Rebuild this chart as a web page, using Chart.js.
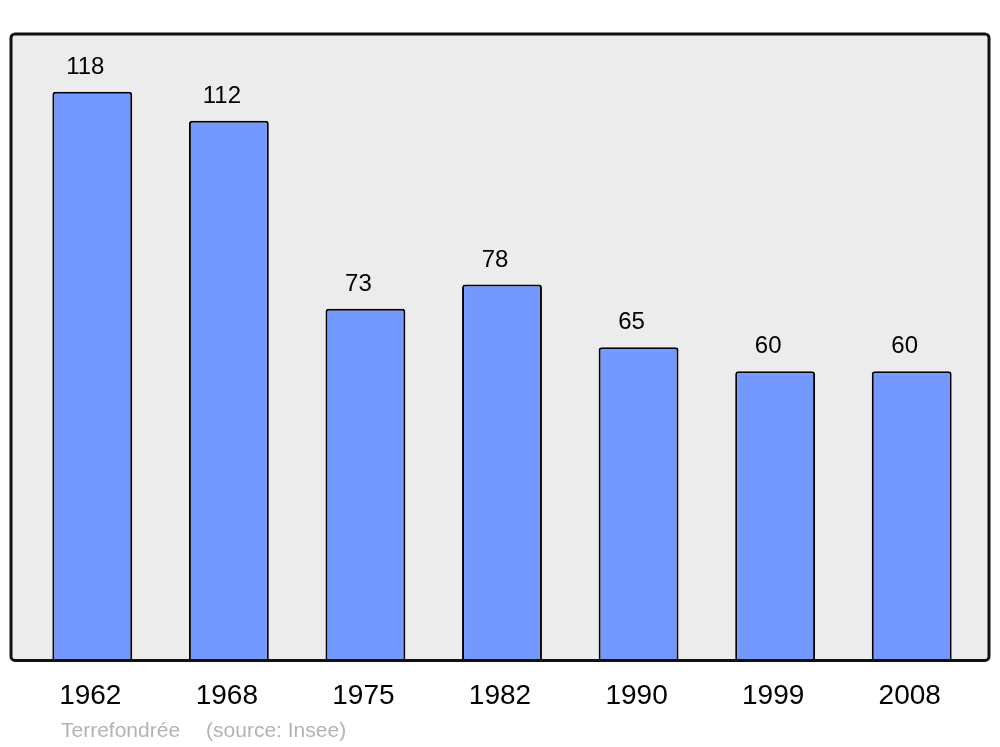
<!DOCTYPE html>
<html>
<head>
<meta charset="utf-8">
<script src="https://cdn.jsdelivr.net/npm/chart.js@4/dist/chart.umd.min.js"></script>
<style>
    html, body { margin: 0; padding: 0; background: #fff; }
    #wrap { position: relative; width: 1000px; height: 747px; }
    #source {
        position: absolute; left: 61px; top: 718px;
        font-family: "Liberation Sans", Arial, sans-serif;
        font-size: 21px; color: #b3b3b3; white-space: pre;
    }
    #source span { margin-left: 26px; }
</style>
</head>
<body>
<div id="wrap">
    <canvas id="popChart" width="1000" height="747"></canvas>
    <div id="source">Terrefondrée<span>(source: Insee)</span></div>
</div>
<script>
// Population by census year
const years = ['1962', '1968', '1975', '1982', '1990', '1999', '2008'];
const population = [118, 112, 73, 78, 65, 60, 60];

// Grey plot box behind the bars, outline drawn on top
const plotBox = {
    id: 'plotBox',
    box(chart) {
        const a = chart.chartArea;
        return { x: a.left - 13, y: a.top, w: (a.right + 9) - (a.left - 13), h: a.bottom - a.top };
    },
    beforeDatasetsDraw(chart) {
        const ctx = chart.ctx;
        const b = this.box(chart);
        ctx.save();
        ctx.beginPath();
        ctx.roundRect(b.x, b.y, b.w, b.h, 4);
        ctx.fillStyle = '#ececec';
        ctx.fill();
        ctx.restore();
    },
    afterDatasetsDraw(chart) {
        const ctx = chart.ctx;
        const b = this.box(chart);
        ctx.save();
        ctx.beginPath();
        ctx.roundRect(b.x, b.y, b.w, b.h, 4);
        ctx.lineWidth = 3;
        ctx.strokeStyle = '#111';
        ctx.stroke();
        // value labels above bars
        ctx.fillStyle = '#000';
        ctx.font = '24px "Liberation Sans", Arial, sans-serif';
        ctx.textAlign = 'center';
        ctx.textBaseline = 'alphabetic';
        chart.getDatasetMeta(0).data.forEach((bar, i) => {
            ctx.fillText(population[i], bar.x - 7, bar.y - 18);
        });
        ctx.restore();
    }
};

const ctx = document.getElementById('popChart').getContext('2d');
new Chart(ctx, {
    type: 'bar',
    data: {
        labels: years,
        datasets: [{
            data: population,
            backgroundColor: '#7399ff',
            borderColor: '#000',
            borderWidth: 2,
            borderRadius: 3,
            borderSkipped: 'bottom',
            categoryPercentage: 1,
            barPercentage: 0.585
        }]
    },
    options: {
        responsive: false,
        animation: false,
        layout: {
            padding: { left: 24, right: 20, top: 34, bottom: 15 }
        },
        plugins: {
            legend: { display: false },
            tooltip: { enabled: false }
        },
        scales: {
            x: {
                grid: { display: false, drawTicks: false },
                border: { display: false },
                ticks: {
                    color: '#000',
                    padding: 19,
                    labelOffset: -2,
                    font: { family: '"Liberation Sans", Arial, sans-serif', size: 28 }
                }
            },
            y: {
                display: false,
                min: 0,
                max: 130
            }
        }
    },
    plugins: [plotBox]
});
</script>
</body>
</html>
